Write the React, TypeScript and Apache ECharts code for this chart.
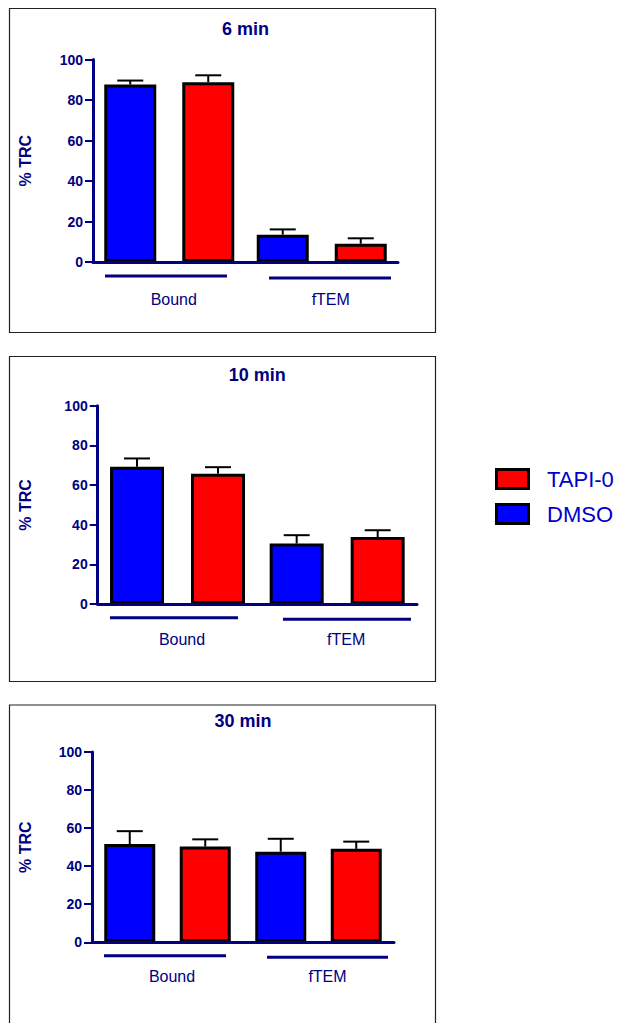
import React, { useEffect, useRef } from "react";
import * as echarts from "echarts";

const categories = ["Bound", "fTEM"];
const titles = ["6 min", "10 min", "30 min"];
const dmsoValues = [
  [87.6, 13.5],
  [69.2, 30.5],
  [51.6, 47.6],
];
const dmsoErrors = [
  [2.0, 2.6],
  [4.2, 4.2],
  [6.8, 6.8],
];
const tapiValues = [
  [88.8, 9.0],
  [65.7, 33.8],
  [50.3, 49.1],
];
const tapiErrors = [
  [3.4, 2.7],
  [3.3, 3.4],
  [3.8, 3.8],
];
const legendNames = ["TAPI-0", "DMSO"];
const yTicks = { min: 0, max: 100, interval: 20 };

const NAVY = "#000080";
const BLUE = "#0000FF";
const RED = "#FF0000";
const FONT = "Arial, 'Liberation Sans', Helvetica, sans-serif";

// layout per panel
const panels = [
  { left: 93, top: 59.5, width: 305, height: 202.5, barWidth: 52, center: 78, labelMargin: 29, nameGap: 60, box: [9, 8, 426, 324], underY: [276, 278], under: [[105, 227], [269, 391]] },
  { left: 97.7, top: 405.7, width: 319.3, height: 198.3, barWidth: 54, center: 81, labelMargin: 27, nameGap: 64, box: [9, 356, 426, 325], underY: [617.7, 619.3], under: [[110, 238], [283, 411]] },
  { left: 92, top: 752, width: 302, height: 190.3, barWidth: 51, center: 75.5, labelMargin: 26, nameGap: 59, box: [9, 704.5, 426, 340], underY: [955.7, 957.3], under: [[104, 226], [267, 388]] },
];

export default function App() {
  const ref = useRef<HTMLDivElement>(null);
  useEffect(() => {
    if (!ref.current) return;
    const chart = echarts.init(ref.current, undefined, { renderer: "svg" });

    const grid: any[] = [];
    const xAxis: any[] = [];
    const yAxis: any[] = [];
    const series: any[] = [];
    const graphic: any[] = [];

    panels.forEach((p, i) => {
      grid.push({ left: p.left, top: p.top, width: p.width, height: p.height, containLabel: false });
      xAxis.push({
        type: "category",
        gridIndex: i,
        data: categories,
        axisLine: { show: true, lineStyle: { color: NAVY, width: 3 } },
        axisTick: { show: false },
        axisLabel: {
          color: NAVY,
          fontSize: 16,
          fontFamily: FONT,
          margin: p.labelMargin,
          formatter: (v: string, idx: number) => (idx === 0 ? `{a|${v}}` : `{b|${v}}`),
          rich: {
            a: { color: NAVY, fontSize: 16, fontFamily: FONT, padding: [0, 0, 0, 9] },
            b: { color: NAVY, fontSize: 16, fontFamily: FONT, padding: [0, 0, 0, 18] },
          },
        },
        z: 5,
      });
      yAxis.push({
        type: "value",
        gridIndex: i,
        min: yTicks.min,
        max: yTicks.max,
        interval: yTicks.interval,
        axisLine: { show: true, lineStyle: { color: NAVY, width: 3 } },
        axisTick: { show: true, length: 8, lineStyle: { color: NAVY, width: 2 } },
        axisLabel: { color: NAVY, fontSize: 14, fontWeight: "bold", fontFamily: FONT, margin: 10 },
        splitLine: { show: false },
        name: "% TRC",
        nameLocation: "middle",
        nameGap: p.nameGap,
        nameTextStyle: { color: NAVY, fontSize: 16, fontWeight: "bold", fontFamily: FONT },
      });
      const barGap = p.center / p.barWidth - 1;
      const barCommon = {
        type: "bar",
        xAxisIndex: i,
        yAxisIndex: i,
        barWidth: p.barWidth,
        barGap: `${barGap * 100}%`,
        z: 2,
      };
      series.push({
        ...barCommon,
        name: "DMSO",
        data: dmsoValues[i],
        itemStyle: { color: BLUE, borderColor: "#000", borderWidth: 3 },
      });
      series.push({
        ...barCommon,
        name: "TAPI-0",
        data: tapiValues[i],
        itemStyle: { color: RED, borderColor: "#000", borderWidth: 3 },
      });
      const half = p.center / 2;
      const mkErr = (vals: number[], errs: number[], dx: number, name: string) => ({
        type: "custom",
        name: name + " err",
        xAxisIndex: i,
        yAxisIndex: i,
        z: 3,
        data: vals.map((v, k) => [k, v, errs[k]]),
        renderItem: (_params: any, api: any) => {
          const x = api.value(0);
          const v = api.value(1);
          const e = api.value(2);
          const p0 = api.coord([x, v]);
          const p1 = api.coord([x, v + e]);
          const cx = p0[0] + dx;
          const cap = 13;
          return {
            type: "group",
            children: [
              { type: "line", shape: { x1: cx, y1: p0[1], x2: cx, y2: p1[1] }, style: { stroke: "#000", lineWidth: 2 } },
              { type: "line", shape: { x1: cx - cap, y1: p1[1], x2: cx + cap, y2: p1[1] }, style: { stroke: "#000", lineWidth: 2 } },
            ],
          };
        },
      });
      series.push(mkErr(dmsoValues[i], dmsoErrors[i], -half, "DMSO"));
      series.push(mkErr(tapiValues[i], tapiErrors[i], half, "TAPI-0"));

      const [bx, by, bw, bh] = p.box;
      graphic.push({
        type: "rect",
        shape: { x: bx + 0.5, y: by + 0.5, width: bw, height: bh },
        style: { fill: "none", stroke: "#222", lineWidth: 1.2 },
        z: 0,
      });
      graphic.push({
        type: "text",
        x: p.left + p.width / 2,
        y: p.top - 31,
        style: { text: titles[i], align: "center", verticalAlign: "middle", fill: NAVY, font: `bold 18px ${FONT}` },
      });
      p.under.forEach((u, k) => {
        graphic.push({
          type: "line",
          shape: { x1: u[0], y1: p.underY[k], x2: u[1], y2: p.underY[k] },
          style: { stroke: NAVY, lineWidth: 3 },
        });
      });
    });

    // legend
    const legendColors = [RED, BLUE];
    const legendY = [469.5, 504.5];
    legendNames.forEach((n, k) => {
      graphic.push({
        type: "rect",
        shape: { x: 496.5, y: legendY[k], width: 32, height: 19 },
        style: { fill: legendColors[k], stroke: "#000", lineWidth: 3 },
      });
      graphic.push({
        type: "text",
        x: 547,
        y: legendY[k] + 10,
        style: { text: n, align: "left", verticalAlign: "middle", fill: "#0000CC", font: `22px ${FONT}` },
      });
    });

    chart.setOption({
      animation: false,
      backgroundColor: "#fff",
      grid,
      xAxis,
      yAxis,
      series,
      graphic,
    });
    return () => chart.dispose();
  }, []);
  return <div ref={ref} style={{ position: "absolute", left: 0, top: 0, width: 623, height: 1023 }} />;
}
